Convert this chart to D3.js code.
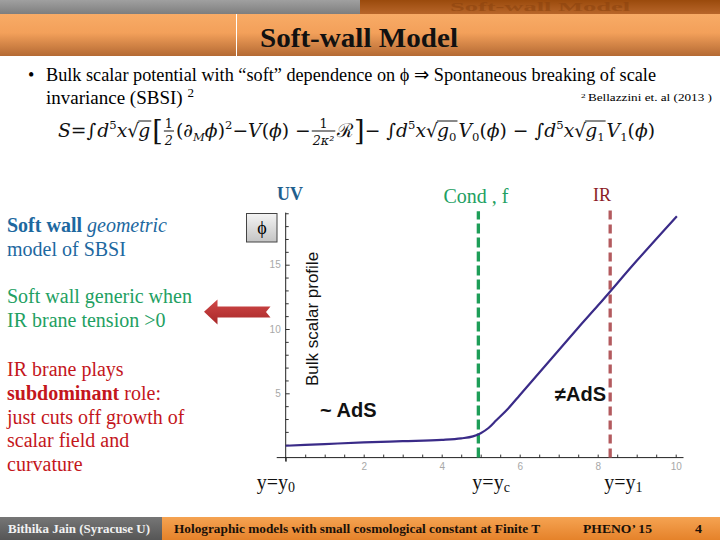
<!DOCTYPE html>
<html><head><meta charset="utf-8">
<script src="https://cdn.jsdelivr.net/npm/d3@7"></script>
<style>body{margin:0;background:#fff}svg{display:block}</style>
</head><body>
<svg id="c" width="720" height="540"></svg>
<script>
// ---- data ----
const xValues   = [0, 1, 2, 3, 4, 4.5, 4.8, 5.0, 5.2, 5.4, 5.7, 6, 6.5, 7, 7.5, 8, 9, 10.03];
const phiValues = [0.92, 1.05, 1.18, 1.28, 1.38, 1.5, 1.65, 1.9, 2.3, 2.9, 3.8, 4.85, 6.6, 8.35, 10.1, 11.8, 15.3, 18.77];
const xTickLabels = [2, 4, 6, 8, 10];
const yTickLabels = [5, 10, 15];
const condPosition = 4.94;
const irPosition = 8.32;
const markerLabels = ["y=y", "y=y", "y=y"];
const markerSubs = ["0", "c", "1"];

const svg = d3.select('#c');
const defs = svg.append('defs');
function vgrad(id, stops){
  const g = defs.append('linearGradient').attr('id', id).attr('x1',0).attr('y1',0).attr('x2',0).attr('y2',1);
  stops.forEach(([o,c]) => g.append('stop').attr('offset', o).attr('stop-color', c));
}
vgrad('gTopGray', [[0,'#a0a0a0'],[1,'#7e7e7e']]);
vgrad('gTopOr', [[0,'#9a4a0c'],[1,'#b8662a']]);
vgrad('gBand', [[0,'#f8ab66'],[0.45,'#f3a05a'],[1,'#b46a34']]);
vgrad('gFootGray', [[0,'#767676'],[1,'#565656']]);
vgrad('gFootOr', [[0,'#f5a352'],[1,'#e5822a']]);
vgrad('gBox', [[0,'#f4f4f4'],[1,'#c4c4c4']]);
vgrad('gArrow', [[0,'#d04848'],[1,'#a82828']]);

const serif = 'Liberation Serif, Times New Roman, serif';

// ---- header ----
svg.append('rect').attr('x',0).attr('y',0).attr('width',360).attr('height',14).attr('fill','url(#gTopGray)');
svg.append('rect').attr('x',360).attr('y',0).attr('width',360).attr('height',14).attr('fill','url(#gTopOr)');
svg.append('text').attr('x',540).attr('y',11).attr('text-anchor','middle').attr('font-family',serif)
  .attr('font-weight','bold').attr('font-size',12).attr('fill','#8a420e').attr('opacity',0.55)
  .attr('textLength',180).attr('lengthAdjust','spacingAndGlyphs').text('Soft-wall Model');
svg.append('rect').attr('x',0).attr('y',14).attr('width',720).attr('height',42).attr('fill','url(#gBand)');
svg.append('line').attr('x1',236.5).attr('x2',236.5).attr('y1',14).attr('y2',56).attr('stroke','#fff').attr('stroke-width',1);
svg.append('text').attr('x',359).attr('y',47).attr('text-anchor','middle').attr('font-family',serif)
  .attr('font-weight','bold').attr('font-size',28).attr('fill','#111').attr('textLength',198).attr('lengthAdjust','spacingAndGlyphs')
  .text('Soft-wall Model');

// ---- bullet ----
svg.append('text').attr('x',28).attr('y',81).attr('font-family',serif).attr('font-size',18).text('•');
svg.append('text').attr('x',46).attr('y',81).attr('font-family',serif).attr('font-size',19)
  .attr('textLength',610).attr('lengthAdjust','spacingAndGlyphs')
  .text('Bulk scalar potential  with “soft” dependence on ϕ ⇒ Spontaneous breaking of scale');
const l2 = svg.append('text').attr('x',46).attr('y',104).attr('font-family',serif).attr('font-size',19);
l2.append('tspan').text('invariance (SBSI) ');
l2.append('tspan').attr('font-size',13).attr('dy',-7).text('2');
const ref = svg.append('text').attr('x',581).attr('y',101).attr('font-family',serif).attr('font-size',10)
  .attr('textLength',131).attr('lengthAdjust','spacingAndGlyphs');
ref.append('tspan').attr('font-size',7).attr('dy',-3).text('2 ');
ref.append('tspan').attr('dy',3).text('Bellazzini  et. al (2013 )');

// ---- equation (laid out piece by piece) ----
const eq = svg.append('g');
const eqInner = eq.append('g');
let cx = 0; const F = 19;
function put(text, o = {}){
  const t = eqInner.append('text').attr('x', cx).attr('y', o.dy || 0)
    .attr('font-family', 'DejaVu Serif').attr('font-size', (o.s || 1) * F)
    .attr('font-style', o.i ? 'italic' : 'normal').attr('fill','#111').text(text);
  cx += t.node().getComputedTextLength() + (o.gap || 0);
  return t;
}
function frac(num, den){
  const s = 0.68*F;
  const a = eqInner.append('text').attr('font-family','DejaVu Serif').attr('font-size',s).attr('text-anchor','middle').attr('fill','#111').text(num);
  const b = eqInner.append('text').attr('font-family','DejaVu Serif').attr('font-size',s).attr('font-style','italic').attr('text-anchor','middle').attr('fill','#111').text(den);
  const w = Math.max(a.node().getComputedTextLength(), b.node().getComputedTextLength()) + 2;
  a.attr('x', cx + 1 + w/2).attr('y', -9);
  b.attr('x', cx + 1 + w/2).attr('y', 8);
  eqInner.append('line').attr('x1', cx+1).attr('x2', cx+1+w).attr('y1',-6).attr('y2',-6).attr('stroke','#111').attr('stroke-width',1);
  cx += w + 3;
}
function sqrt(base, sub){
  put('√', {gap: -1});
  const x0 = cx;
  put(base, {i: true});
  if (sub) put(sub, {s: 0.62, dy: 4});
  eqInner.append('line').attr('x1', x0).attr('x2', cx+1).attr('y1', -16).attr('y2', -16).attr('stroke','#111').attr('stroke-width',1);
  cx += 2;
}
put('S', {i:true}); put(' = '); put('∫ ', {gap:1}); put('d', {i:true}); put('5', {s:0.62, dy:-8}); put('x', {i:true});
sqrt('g'); put(' [', {s:1.45, dy:3}); frac('1','2'); put('(∂'); put('M', {s:0.62, dy:4, i:true}); put('ϕ', {i:true}); put(')');
put('2', {s:0.62, dy:-8}); put(' − '); put('V', {i:true}); put('('); put('ϕ', {i:true}); put(') − ');
frac('1','2κ²'); put('ℛ'); put(']', {s:1.45, dy:3}); put(' − ∫ '); put('d', {i:true}); put('5', {s:0.62, dy:-8}); put('x', {i:true});
sqrt('g', '0'); put(' V', {i:true}); put('0', {s:0.62, dy:4}); put('('); put('ϕ', {i:true}); put(')   − ∫ ');
put('d', {i:true}); put('5', {s:0.62, dy:-8}); put('x', {i:true}); sqrt('g', '1'); put(' V', {i:true}); put('1', {s:0.62, dy:4});
put('('); put('ϕ', {i:true}); put(')');
eq.attr('transform', `translate(58,137) scale(${597/cx},1)`);

// ---- left texts ----
function block(lines, color, y0, step){
  lines.forEach((parts, i) => {
    const t = svg.append('text').attr('x',7).attr('y', y0 + i*step).attr('font-family',serif).attr('font-size',20).attr('fill',color);
    parts.forEach(p => t.append('tspan').attr('font-weight', p.b ? 'bold' : 'normal').attr('font-style', p.i ? 'italic' : 'normal').text(p.t));
  });
}
block([[{t:'Soft wall', b:true},{t:' geometric', i:true}],[{t:'model of SBSI'}]], '#1d68a0', 232, 23.5);
block([[{t:'Soft wall generic when'}],[{t:'IR brane tension >0'}]], '#22a062', 303, 24);
block([[{t:'IR brane plays'}],[{t:'subdominant', b:true},{t:' role:'}],[{t:'just cuts off growth of'}],[{t:'scalar field and'}],[{t:'curvature'}]], '#c4161c', 376, 23.8);

// arrow
svg.append('path').attr('d','M204,311.7 L217.5,299.5 L217.5,306.5 L270.5,306.5 L266,312 L270.5,317.5 L217.5,317.5 L217.5,324.5 Z')
  .attr('fill','url(#gArrow)');

// ---- chart ----
const x = d3.scaleLinear().domain([0, 10]).range([285.7, 675.7]);
const y = d3.scaleLinear().domain([0, 10]).range([457.6, 329]);

// x axis
const xAxis = d3.axisBottom(x).tickValues(d3.range(0, 10.01, 0.5)).tickSizeInner(-3).tickSizeOuter(0).tickPadding(5)
  .tickFormat(d => xTickLabels.includes(d) ? String(d) : '');
const gx = svg.append('g').attr('transform', `translate(0,${y(0)})`).call(xAxis);
gx.select('.domain').remove();
gx.selectAll('.tick line').attr('stroke','#333');
gx.selectAll('.tick text').attr('fill','#a8a8a8').attr('font-family','Liberation Sans').attr('font-size',10);
gx.selectAll('.tick').filter(d => d === 0).select('line').attr('y2', 4);
svg.append('line').attr('x1', x(-0.23)).attr('x2', x(10.2)).attr('y1', y(0)).attr('y2', y(0)).attr('stroke','#222').attr('stroke-width',1);

// y axis
const yAxis = d3.axisLeft(y).tickValues(d3.range(1, 19.5, 1)).tickSizeInner(-4).tickSizeOuter(0).tickPadding(5)
  .tickFormat(d => yTickLabels.includes(d) ? String(d) : '');
const gy = svg.append('g').attr('transform', `translate(${x(0)},0)`).call(yAxis);
gy.select('.domain').remove();
gy.selectAll('.tick line').attr('stroke','#333');
gy.selectAll('.tick').filter(d => !yTickLabels.includes(d)).select('line').attr('x2', 3);
gy.selectAll('.tick text').attr('fill','#a8a8a8').attr('font-family','Liberation Sans').attr('font-size',10);
svg.append('line').attr('x1', x(0)).attr('x2', x(0)).attr('y1', y(-0.3)).attr('y2', y(19.05)).attr('stroke','#222').attr('stroke-width',1);

// dashed markers
svg.append('line').attr('x1', x(condPosition)).attr('x2', x(condPosition)).attr('y1', y(0)).attr('y2', y(19.16))
  .attr('stroke','#1e9e58').attr('stroke-width',3.3).attr('stroke-dasharray','10,4');
svg.append('line').attr('x1', x(irPosition)).attr('x2', x(irPosition)).attr('y1', y(0)).attr('y2', y(19.32))
  .attr('stroke','#b35a5e').attr('stroke-width',3.3).attr('stroke-dasharray','9,5');

// curve
const line = d3.line().x((d, i) => x(xValues[i])).y(d => y(d)).curve(d3.curveMonotoneX);
svg.append('path').datum(phiValues).attr('d', line).attr('fill','none').attr('stroke','#3a2b88').attr('stroke-width',2.2);

// phi box
svg.append('rect').attr('x',246.5).attr('y',213.5).attr('width',30.5).attr('height',28.5).attr('fill','url(#gBox)').attr('stroke','#444').attr('stroke-width',1);
svg.append('text').attr('x',262).attr('y',234).attr('text-anchor','middle').attr('font-family',serif).attr('font-size',18).text('ϕ');

// labels
svg.append('text').attr('x',290).attr('y',200).attr('text-anchor','middle').attr('font-family',serif).attr('font-weight','bold').attr('font-size',18).attr('fill','#1f5f8e').text('UV');
svg.append('text').attr('x',476).attr('y',203).attr('text-anchor','middle').attr('font-family',serif).attr('font-size',20).attr('fill','#22a062').text('Cond , f');
svg.append('text').attr('x',602).attr('y',201).attr('text-anchor','middle').attr('font-family',serif).attr('font-size',18).attr('fill','#8c1c24').text('IR');
svg.append('text').attr('transform','translate(318,319) rotate(-90)').attr('text-anchor','middle').attr('font-family','Liberation Sans').attr('font-size',17).attr('fill','#111').text('Bulk scalar profile');
svg.append('text').attr('x',320).attr('y',417).attr('font-family','Liberation Sans').attr('font-weight','bold').attr('font-size',20).attr('fill','#111').text('~ AdS');
svg.append('text').attr('x',555).attr('y',401).attr('font-family','Liberation Sans').attr('font-weight','bold').attr('font-size',20).attr('fill','#111').text('≠AdS');

const markerX = [0, condPosition, irPosition];
const markerShift = [-29, -6, -6];
markerX.forEach((v, i) => {
  const t = svg.append('text').attr('x', x(v) + markerShift[i]).attr('y', 489).attr('font-family',serif).attr('font-size',20).attr('fill','#111');
  t.append('tspan').text(markerLabels[i]);
  t.append('tspan').attr('font-size',14).attr('dy',3).text(markerSubs[i]);
});

// ---- footer ----
svg.append('rect').attr('x',0).attr('y',517).attr('width',162).attr('height',23).attr('fill','url(#gFootGray)');
svg.append('rect').attr('x',162).attr('y',517).attr('width',558).attr('height',23).attr('fill','url(#gFootOr)');
function foot(txt, x0, w, col, fs){
  svg.append('text').attr('x',x0).attr('y',533).attr('font-family',serif).attr('font-weight','bold').attr('font-size',fs)
    .attr('fill',col).attr('textLength',w).attr('lengthAdjust','spacingAndGlyphs').text(txt);
}
foot('Bithika Jain (Syracuse U)', 8, 142, '#f2f2f2', 13);
foot('Holographic models with small cosmological constant at Finite T', 174, 366, '#1a1008', 11.5);
foot('PHENO’ 15', 583, 69, '#1a1008', 13);
foot('4', 695, 7, '#1a1008', 13);
</script>
</body></html>
